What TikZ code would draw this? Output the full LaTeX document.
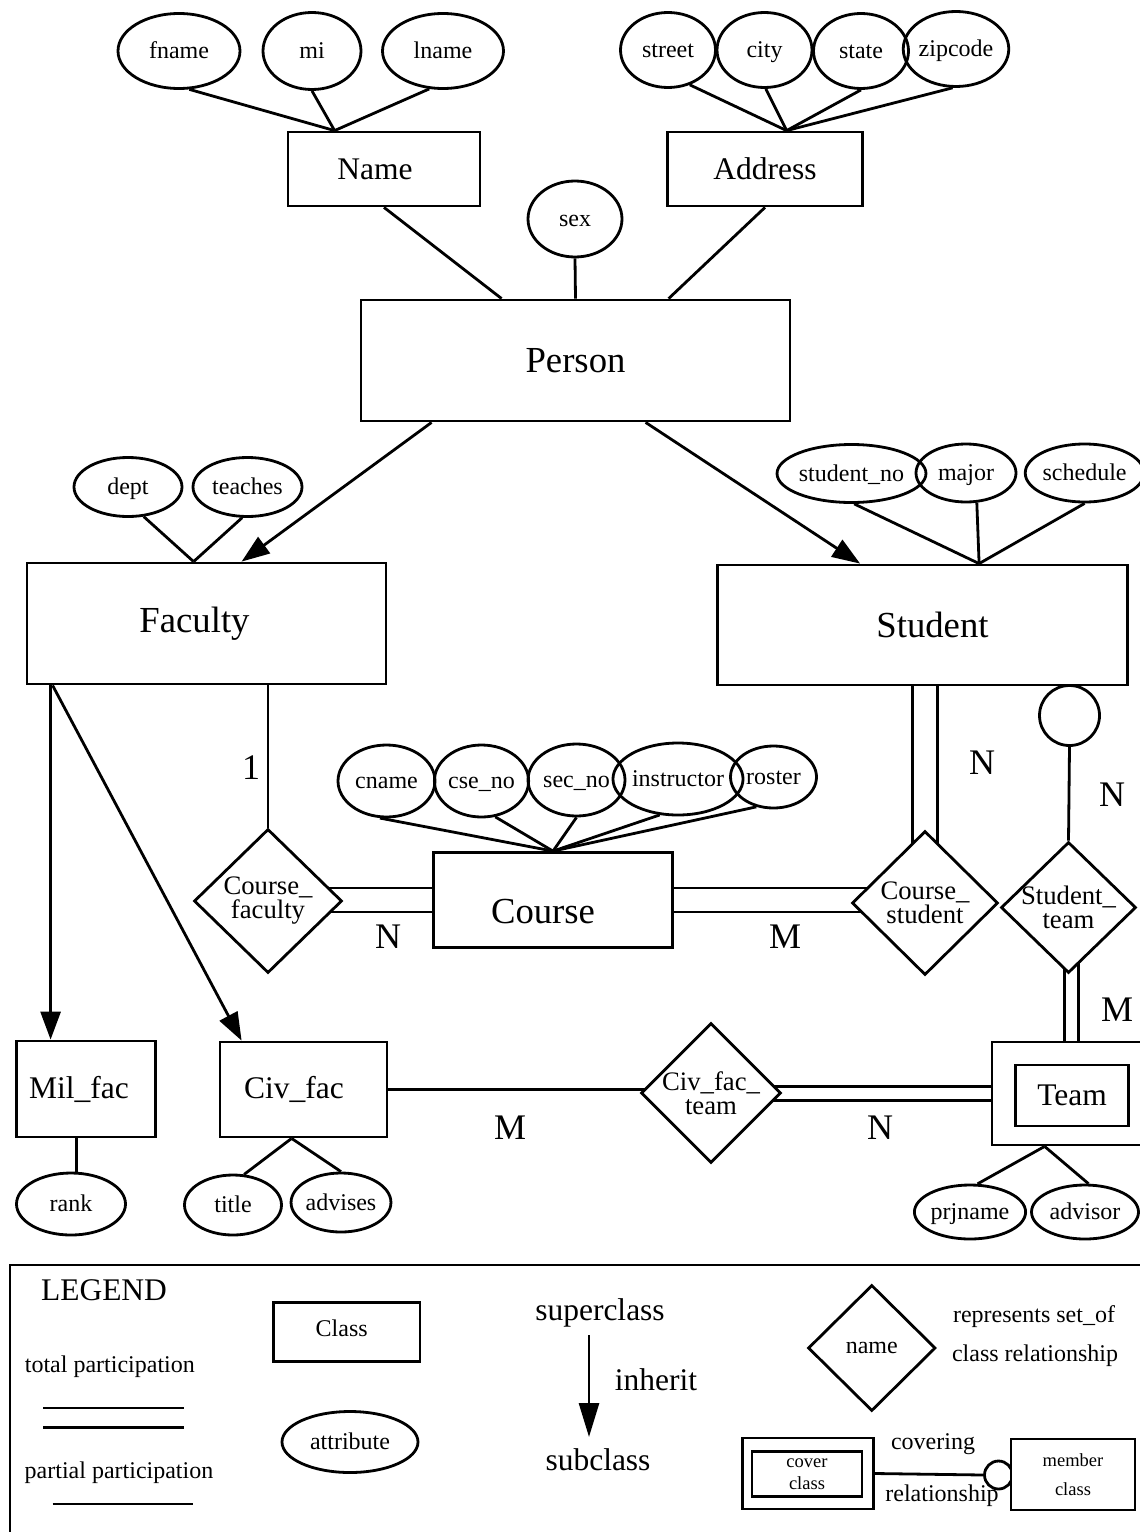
\documentclass[tikz,border=0pt]{standalone}
\usepackage{fontspec}
\setmainfont{Liberation Serif}
\usetikzlibrary{shapes.geometric,arrows.meta,calc}
\pgfdeclarelayer{bg}
\pgfsetlayers{bg,main}

% font sizes
\newcommand\szBig{\fontsize{36.7bp}{40bp}\selectfont}
\newcommand\szMed{\fontsize{31.5bp}{34bp}\selectfont}
\newcommand\szAttr{\fontsize{24bp}{26bp}\selectfont}
\newcommand\szRel{\fontsize{26.7bp}{24bp}\selectfont}
\newcommand\szCard{\fontsize{36bp}{38bp}\selectfont}
\newcommand\szTiny{\fontsize{18.5bp}{22bp}\selectfont}

\begin{document}
\begin{tikzpicture}[x=1bp,y=-1bp,
  lw/.style={line width=2.8bp},
  sz/.style 2 args={minimum width=#1bp,minimum height=#2bp},
  cls/.style={draw,lw,rectangle,fill=white,inner sep=0pt},
  attr/.style={draw,lw,ellipse,inner sep=0pt,font=\szAttr,text height=18bp,text depth=3bp},
  rel/.style={draw,lw,diamond,fill=white,inner sep=-4bp,align=center,font=\szRel},
  card/.style={font=\szCard,inner sep=0pt},
  conn/.style={lw},
  inh/.style={lw,-{Triangle[length=28bp,width=20bp]}},
]
\useasboundingbox (0,0) rectangle (1139,1532);

% ---------- Name / Address / Person ----------
\node[attr,sz={122}{75}] (fname) at (179,51) {fname};
\node[attr,sz={98}{77}] (mi) at (312,51) {mi};
\node[attr,sz={121}{75}] (lname) at (443,51) {lname};
\node[cls,sz={192}{74},font=\szMed] (Name) at (384,169) {\hspace*{-18bp}Name};

\node[attr,sz={95}{75}] (street) at (668,50) {street};
\node[attr,sz={95}{75}] (city) at (764.5,50) {city};
\node[attr,sz={95}{75}] (state) at (861,51) {state};
\node[attr,sz={97}{75}] (zipcode) at (956,49) {zipcode};
\node[cls,sz={195}{74},font=\szMed] (Address) at (765,169) {Address};

\node[attr,sz={94}{76}] (sex) at (575,219) {sex};
\node[cls,sz={429}{121},font=\szBig] (Person) at (575.5,360.5) {Person};

% ---------- Faculty / Student ----------
\node[attr,sz={108}{59}] (dept) at (128,487) {dept};
\node[attr,sz={109}{59}] (teaches) at (247.5,487) {teaches};
\node[cls,sz={359}{121},font=\szBig] (Faculty) at (206.5,623.5) {\hspace*{-24bp}Faculty};

\node[attr,sz={121}{58}] (stuno) at (851.5,473.5) {student\_no};
\node[attr,sz={100}{58}] (major) at (966,473) {major};
\node[attr,sz={106}{58}] (schedule) at (1084.6,473) {schedule};
\node[cls,sz={410}{120},font=\szBig] (Student) at (922.5,625) {\hspace*{20bp}Student};

\node[draw,lw,circle,fill=white,minimum size=60bp,inner sep=0pt] (cov) at (1069.5,715.5) {};

% ---------- Course and its relationships ----------
\node[attr,sz={97}{72}] (cname) at (386.5,781) {cname};
\node[attr,sz={93}{72}] (cseno) at (481.5,781) {cse\_no};
\node[attr,sz={97}{72}] (secno) at (576.5,780) {sec\_no};
\node[attr,sz={110}{72}] (instructor) at (678,779) {instructor};
\node[attr,sz={86}{62}] (roster) at (773.5,777) {roster};
\node[cls,sz={239}{95},font=\szBig] (Course) at (553,900)
  {\hspace*{-20bp}\raisebox{-12bp}[\height][\depth]{Course}};

\node[rel,sz={148}{144}] (CF) at (268,901) {Course\_\\faculty};
\node[rel,sz={146}{144}] (CS) at (925,903) {Course\_\\student};
\node[rel,sz={135}{131}] (ST) at (1068.5,907.5) {Student\_\\team};

% ---------- subclasses and Team ----------
\node[cls,sz={139}{96},font=\szMed] (MilFac) at (86,1089) {\hspace*{-14bp}Mil\_fac};
\node[cls,sz={167}{95},font=\szMed] (CivFac) at (303.5,1089.5) {\hspace*{-19bp}Civ\_fac};
\node[attr,sz={109}{62}] (rank) at (71,1204) {rank};
\node[attr,sz={97}{60}] (title) at (233,1205) {title};
\node[attr,sz={96}{59}] (advises) at (341,1202.5) {advises};

\node[rel,sz={140}{140}] (CFT) at (711,1093) {Civ\_fac\_\\team};

\node[cls,sz={159.5}{103}] (TeamO) at (1071.75,1093.5) {};
\node[cls,sz={113}{61},font=\szMed] (TeamI) at (1072,1095.5) {Team};
\node[attr,sz={100}{54}] (prjname) at (970,1212) {prjname};
\node[attr,sz={107}{54}] (advisor) at (1085,1212) {advisor};

% ---------- cardinalities ----------
\node[card] (c1) at (251,768) {1};
\node[card] (cN1) at (388,937) {N};
\node[card] (cM1) at (785,937) {M};
\node[card] (cN2) at (982,763) {N};
\node[card] (cN3) at (1112,795) {N};
\node[card] (cM2) at (1117,1010) {M};
\node[card] (cM3) at (510,1128) {M};
\node[card] (cN4) at (880,1128) {N};

% ---------- attachment points ----------
\coordinate (nameTop) at ($(Name.north west)+(48,0)$);
\coordinate (addrTop) at ($(Address.north west)+(120.5,0)$);
\coordinate (facTop) at ($(Faculty.north west)+(168,0)$);
\coordinate (stuTop) at ($(Student.north west)+(263,0)$);
\coordinate (csL) at ($(CS.center)+(-12.5,0)$);
\coordinate (csR) at ($(CS.center)+(12.5,0)$);
\coordinate (cwU) at ($(Course.west)+(0,-12)$);
\coordinate (cwD) at ($(Course.west)+(0,12)$);
\coordinate (ceU) at ($(Course.east)+(0,-12)$);
\coordinate (ceD) at ($(Course.east)+(0,12)$);
\coordinate (fk) at ($(Faculty.south west)+(25,0)$);
\coordinate (mk) at ($(MilFac.south west)+(61,0)$);
\coordinate (cvb) at ($(CivFac.south west)+(73,0)$);
\coordinate (tU) at ($(TeamO.west)+(0,-7)$);
\coordinate (tD) at ($(TeamO.west)+(0,7)$);
\coordinate (tL) at ($(TeamO.north)+(-7,0)$);
\coordinate (tR) at ($(TeamO.north)+(7,0)$);
\coordinate (tb) at ($(TeamO.south west)+(54,0)$);

% ---------- connectors ----------
\begin{pgfonlayer}{bg}
\draw[conn] (fname.-75) -- (nameTop);
\draw[conn] (mi.south) -- (nameTop);
\draw[conn] (lname.-110) -- (nameTop);
\draw[conn] (street.-58) -- (addrTop);
\draw[conn] (city.-88) -- (addrTop);
\draw[conn] (state.south) -- (addrTop);
\draw[conn] (zipcode.-95) -- (addrTop);
\draw[conn] (Name.south) -- ($(Person.north west)+(142,0)$);
\draw[conn] (Address.south) -- ($(Person.north west)+(309,0)$);
\draw[conn] (sex.south) -- (Person.north);

\draw[inh] ($(Person.south west)+(72,0)$) -- ($(Faculty.north west)+(216,0)$);
\draw[inh] ($(Person.south west)+(286,0)$) -- ($(Student.north west)+(144,0)$);
\draw[conn] (dept.-62) -- (facTop);
\draw[conn] (teaches.-100) -- (facTop);
\draw[conn] (stuno.-85) -- (stuTop);
\draw[conn] (major.-70) -- (stuTop);
\draw[conn] (schedule.south) -- (stuTop);

\draw[conn] (cov.south) -- (ST.north);
\draw[conn] (csL |- Student.south) -- (csL);
\draw[conn] (csR |- Student.south) -- (csR);

\draw[conn] (CF.north |- Faculty.south) -- (CF.north);
\draw[conn] (cwU -| CF.center) -- (cwU);
\draw[conn] (cwD -| CF.center) -- (cwD);
\draw[conn] (ceU) -- (ceU -| CS.center);
\draw[conn] (ceD) -- (ceD -| CS.center);

\draw[conn] (cname.-100) -- (Course.north);
\draw[conn] (cseno.-69) -- (Course.north);
\draw[conn] (secno.south) -- (Course.north);
\draw[conn] (instructor.-117) -- (Course.north);
\draw[conn] (roster.-120) -- (Course.north);

\draw[inh] (fk) -- (fk |- MilFac.north);
\draw[inh] ($(Faculty.south west)+(27,0)$) -- ($(CivFac.north west)+(23,0)$);
\draw[conn] (mk) -- (mk |- rank.north);
\draw[conn] (cvb) -- (title.70);
\draw[conn] (cvb) -- (advises.north);

\draw[conn] (CivFac.east) -- (CivFac.east -| CFT.center);
\draw[conn] (tU -| CFT.center) -- (tU);
\draw[conn] (tD -| CFT.center) -- (tD);
\draw[conn] (tL |- ST.center) -- (tL);
\draw[conn] (tR |- ST.center) -- (tR);
\draw[conn] (tb) -- (prjname.75);
\draw[conn] (tb) -- (advisor.83);
\end{pgfonlayer}

% ---------- legend ----------
\draw[lw] (1150,1265) -- (10,1265) -- (10,1545);
\node[font=\szMed] (lgd) at (104,1290) {LEGEND};
\node[font=\szAttr,anchor=west,inner sep=0pt] (ltot) at (24.7,1367) {total participation};
\draw[lw] (43,1408) -- (183.6,1408);
\draw[lw] (43,1427.7) -- (183.6,1427.7);
\node[font=\szAttr,anchor=west,inner sep=0pt] (lpart) at (24.5,1473) {partial participation};
\draw[lw] (52.7,1504) -- (193,1504);

\node[cls,sz={146.5}{59},font=\szAttr] (lcls) at (346.7,1332) {\hspace*{-10bp}\raisebox{4bp}[\height][\depth]{Class}};
\node[attr,sz={136}{61}] (lattr) at (350,1442) {attribute};

\node[font=\szMed] (lsup) at (600,1313) {superclass};
\node[font=\szMed] (linh) at (656,1380) {inherit};
\node[font=\szMed] (lsub) at (598,1460) {subclass};
\coordinate (la) at (589,1335);
\coordinate (lb) at (589,1437);
\draw[lw,-{Triangle[length=34bp,width=20bp]}] (la) -- (lb);

\node[rel,sz={127.5}{126},font=\szAttr] (lrelnode) at (871.8,1348) {name};
\node[font=\szAttr] (lrep) at (1034,1317) {represents set\_of};
\node[font=\szAttr] (lrel) at (1035,1356) {class relationship};

\node[cls,sz={131}{71}] (lcovO) at (808,1473.5) {};
\node[cls,sz={110}{45},font=\szTiny,align=center] (lcovI) at (807,1474) {cover\\class};
\node[draw,lw,circle,fill=white,minimum size=28bp,inner sep=0pt] (lcirc) at (998.5,1475) {};
\node[cls,sz={124}{71},font=\szTiny,align=center] (lmem) at (1073,1474.5) {member\\[7bp]class};
\node[font=\szAttr] (lcov) at (933,1444) {covering};
\node[font=\szAttr] (lrship) at (942,1496) {relationship};
\draw[lw] (lcovO.east) -- (lcirc.west);

\end{tikzpicture}
\end{document}
